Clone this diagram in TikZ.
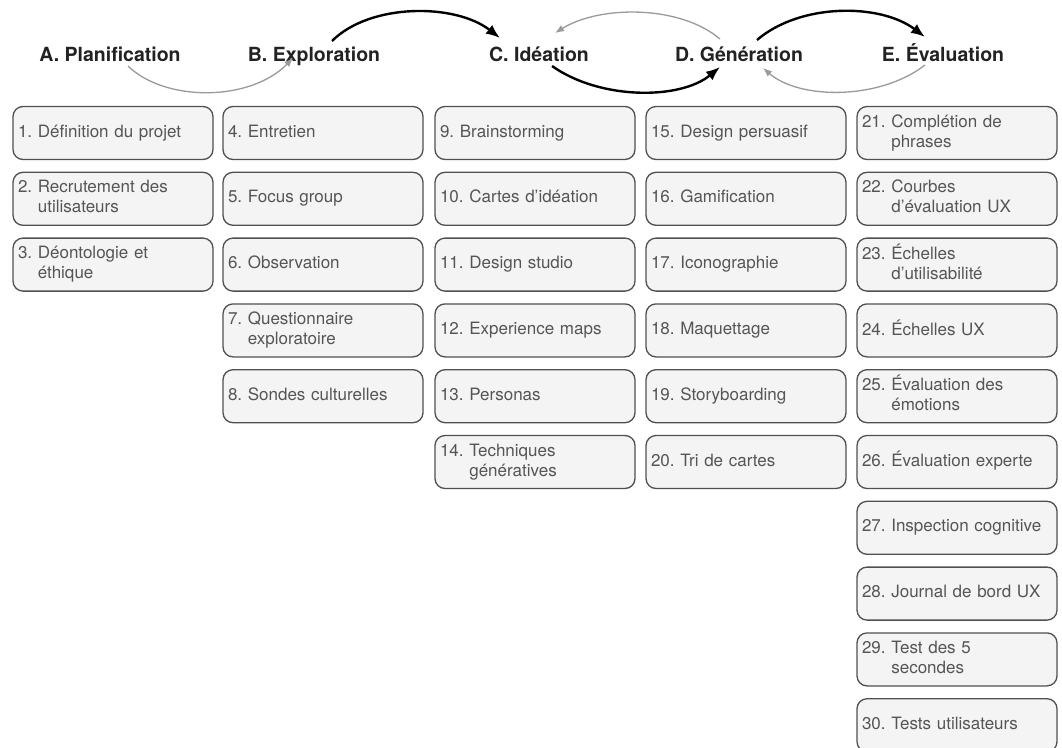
\documentclass[tikz,border=0pt]{standalone}
\usepackage{fontspec}
\setmainfont{TeX Gyre Heros}
\usetikzlibrary{arrows.meta,calc}
\definecolor{boxfill}{HTML}{F4F4F4}
\definecolor{boxline}{HTML}{505050}
\definecolor{boxtext}{HTML}{555555}
\definecolor{headtext}{HTML}{222222}
\definecolor{lightarrow}{HTML}{9A9A9A}
\newcommand{\one}[2]{\begin{tabular}{@{}l@{\ }l@{}}#1 & #2\end{tabular}}
\newcommand{\two}[3]{\begin{tabular}{@{}l@{\ }l@{}}#1 & #2\\ & #3\end{tabular}}
\begin{document}
\begin{tikzpicture}[x=1pt,y=-1pt,
  itembox/.style={draw=boxline, fill=boxfill, line width=1.3pt, rounded corners=10pt,
    minimum width=200pt, minimum height=53pt, text width=190pt, inner sep=5pt,
    align=left, text=boxtext, font=\fontsize{17}{20}\selectfont},
  phase/.style={inner sep=0pt, anchor=base, text height=14pt, text depth=0pt,
    text=headtext, font=\fontsize{19.5}{22}\selectfont\bfseries},
  strongarrow/.style={line width=2.4pt, draw=black, -{Latex[length=14pt,width=11pt]}},
  weakarrow/.style={line width=1.3pt, draw=lightarrow, -{Latex[length=9pt,width=7pt]}}]
\useasboundingbox (0,0) rectangle (1062,747);
\clip (0,0) rectangle (1062,747);
\fill[white] (0,0) rectangle (1062,747);

% phase headings
\node[phase] (A) at (110,61) {A. Planification};
\node[phase] (B) at (314,61) {B. Exploration};
\node[phase] (C) at (539,61) {C. Idéation};
\node[phase] (D) at (739,61) {D. Génération};
\node[phase] (E) at (943,61) {E. Évaluation};

% arrows between phases
\draw[weakarrow] ([shift={(18,5)}]A.base) .. controls +(37,36) and +(-43,44) .. ([shift={(-21,-3)}]B.base);
\draw[strongarrow] ([shift={(18,-20)}]B.base) .. controls +(38,-38) and +(-45,-35) .. ([shift={(-39,-23)}]C.base);
\draw[strongarrow] ([shift={(13,5)}]C.base) .. controls +(48,34) and +(-40,33) .. ([shift={(-19,6)}]D.base);
\draw[weakarrow] ([shift={(-19,-22)}]D.base) .. controls +(-40,-34) and +(45,-28) .. ([shift={(16,-28)}]C.base);
\draw[strongarrow] ([shift={(18,-21)}]D.base) .. controls +(43,-37) and +(-45,-34) .. ([shift={(-18,-24)}]E.base);
\draw[weakarrow] ([shift={(-18,4)}]E.base) .. controls +(-45,35) and +(37,32) .. ([shift={(24,7)}]D.base);

% column A
\node[itembox] (b1) at (113,133) {\one{1.}{Définition du projet}};
\node[itembox] (b2) at (113,198.8) {\two{2.}{Recrutement des}{utilisateurs}};
\node[itembox] (b3) at (113,264.6) {\two{3.}{Déontologie et}{éthique}};
% column B
\node[itembox] (b4) at (323,133) {\one{4.}{Entretien}};
\node[itembox] (b5) at (323,198.8) {\one{5.}{Focus group}};
\node[itembox] (b6) at (323,264.6) {\one{6.}{Observation}};
\node[itembox] (b7) at (323,330.4) {\two{7.}{Questionnaire}{exploratoire}};
\node[itembox] (b8) at (323,396.2) {\one{8.}{Sondes culturelles}};
% column C
\node[itembox] (b9) at (535,133) {\one{9.}{Brainstorming}};
\node[itembox] (b10) at (535,198.8) {\one{10.}{Cartes d’idéation}};
\node[itembox] (b11) at (535,264.6) {\one{11.}{Design studio}};
\node[itembox] (b12) at (535,330.4) {\one{12.}{Experience maps}};
\node[itembox] (b13) at (535,396.2) {\one{13.}{Personas}};
\node[itembox] (b14) at (535,462) {\two{14.}{Techniques}{génératives}};
% column D
\node[itembox] (b15) at (746,133) {\one{15.}{Design persuasif}};
\node[itembox] (b16) at (746,198.8) {\one{16.}{Gamification}};
\node[itembox] (b17) at (746,264.6) {\one{17.}{Iconographie}};
\node[itembox] (b18) at (746,330.4) {\one{18.}{Maquettage}};
\node[itembox] (b19) at (746,396.2) {\one{19.}{Storyboarding}};
\node[itembox] (b20) at (746,462) {\one{20.}{Tri de cartes}};
% column E
\node[itembox] (b21) at (957,133) {\two{21.}{Complétion de}{phrases}};
\node[itembox] (b22) at (957,198.8) {\two{22.}{Courbes}{d’évaluation UX}};
\node[itembox] (b23) at (957,264.6) {\two{23.}{Échelles}{d’utilisabilité}};
\node[itembox] (b24) at (957,330.4) {\one{24.}{Échelles UX}};
\node[itembox] (b25) at (957,396.2) {\two{25.}{Évaluation des}{émotions}};
\node[itembox] (b26) at (957,462) {\one{26.}{Évaluation experte}};
\node[itembox] (b27) at (957,527.8) {\one{27.}{Inspection cognitive}};
\node[itembox] (b28) at (957,593.6) {\one{28.}{Journal de bord UX}};
\node[itembox] (b29) at (957,659.4) {\two{29.}{Test des 5}{secondes}};
\node[itembox] (b30) at (957,725.2) {\one{30.}{Tests utilisateurs}};
\end{tikzpicture}
\end{document}
